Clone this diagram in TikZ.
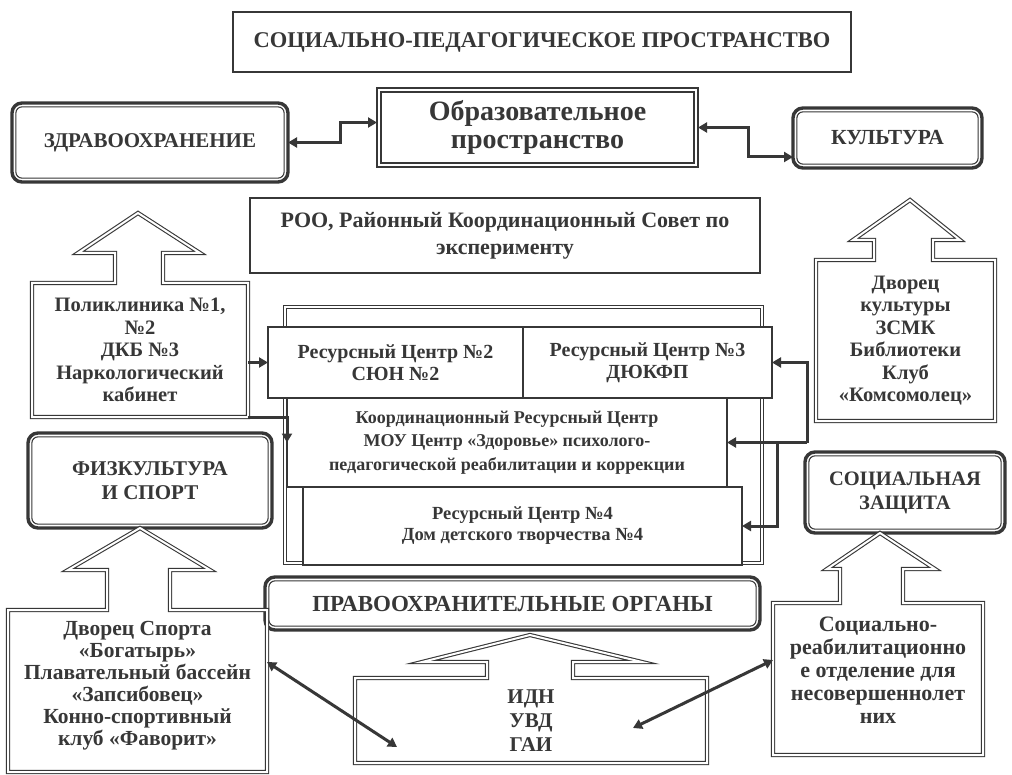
\documentclass[tikz,border=0pt]{standalone}
\usepackage{fontspec}
\setmainfont{Liberation Serif}
\usetikzlibrary{arrows.meta}
\definecolor{ink}{RGB}{55,55,55}
\tikzset{
  txt/.style={text=ink, align=center, inner sep=0pt, outer sep=0pt},
  thickbox/.style={txt, draw=ink, line width=2.8pt, fill=white},
  rbox/.style={txt, draw=ink, line width=3.4pt, rounded corners=10pt},
  dbl/.style={draw=ink, double=white, line width=1.1pt, double distance=2pt},
  conn/.style={draw=ink, line width=3pt, >={Triangle[length=9pt,width=10pt]}},
}
\newcommand{\fs}[2]{\bfseries\fontsize{#1}{#2}\selectfont}
\begin{document}
\begin{tikzpicture}[x=1pt,y=-1pt]
  \useasboundingbox[fill=white] (0,0) rectangle (1012,775);
  % top row
  \node[thickbox, minimum width=618, minimum height=60, font=\fs{22.5}{25}] (title) at (542,42)
    {СОЦИАЛЬНО-ПЕДАГОГИЧЕСКОЕ ПРОСТРАНСТВО};
  \node[rbox, minimum width=276, minimum height=79, font=\fs{21}{23}] (zdrav) at (150,142.5)
    {ЗДРАВООХРАНЕНИЕ};
  \node[txt, draw=ink, line width=1.1pt, minimum width=321, minimum height=79, font=\fs{28}{28}] (obraz) at (537.5,127.5)
    {Образовательное\\пространство};
  \draw[ink, line width=2.6pt] ([shift={(4pt,-4pt)}]obraz.north west) rectangle ([shift={(-4pt,4pt)}]obraz.south east);
  \node[rbox, minimum width=189, minimum height=60, font=\fs{21.5}{23}] (kult) at (887.5,138)
    {КУЛЬТУРА};
  \node[thickbox, minimum width=510, minimum height=75, font=\fs{22}{27}] (roo) at (505,235.5)
    {РОО, Районный Координационный Совет по\\эксперименту};

  % resource centres
  \draw[dbl] (285,307) rectangle (762,563);
  \node[thickbox, minimum width=440, minimum height=89, font=\fs{18}{23.5}] (coord) at (507,442.5)
    {Координационный Ресурсный Центр\\МОУ Центр «Здоровье» психолого-\\педагогической реабилитации и коррекции};
  \node[thickbox, minimum width=439, minimum height=78, font=\fs{18.5}{21}] (rc4) at (522.5,526)
    {Ресурсный Центр №4\\Дом детского творчества №4};
  \node[thickbox, minimum width=255, minimum height=71, font=\fs{20}{22}] (rc2) at (395.5,362.5)
    {Ресурсный Центр №2\\СЮН №2};
  \node[thickbox, minimum width=249, minimum height=71, font=\fs{20}{22}] (rc3) at (647.5,362.5)
    {Ресурсный Центр №3\\ДЮКФП};

  % spheres
  \node[rbox, minimum width=244, minimum height=95, font=\fs{21}{24}] (fiz) at (150,480.5)
    {ФИЗКУЛЬТУРА\\И СПОРТ};
  \node[rbox, minimum width=200, minimum height=81, font=\fs{20.5}{24}] (socz) at (905,492.5)
    {СОЦИАЛЬНАЯ\\ЗАЩИТА};
  \node[rbox, minimum width=495, minimum height=53, font=\fs{23}{25}] (pravo) at (512.5,603.5)
    {ПРАВООХРАНИТЕЛЬНЫЕ ОРГАНЫ};
  \foreach \n in {zdrav,kult,fiz,socz,pravo}
    \draw[ink, line width=1.1pt, rounded corners=6pt] ([shift={(3.9pt,-3.9pt)}]\n.north west) rectangle ([shift={(-3.9pt,3.9pt)}]\n.south east);

  % institutions with block arrows
  \node[txt, minimum width=216, minimum height=134, font=\fs{20.5}{22.5}] (poly) at (140,350)
    {Поликлиника №1,\\№2\\ДКБ №3\\Наркологический\\кабинет};
  \draw[dbl] (poly.north west) -- (115,283) -- (115,253) -- (78,253) -- (138,213) -- (200,253)
    -- (163,253) -- (163,283) -- (poly.north east) -- (poly.south east) -- (poly.south west) -- cycle;
  \node[txt, minimum width=179, minimum height=161, font=\fs{20.5}{22.5}] (kultd) at (905.5,340.5)
    {Дворец\\культуры\\ЗСМК\\Библиотеки\\Клуб\\«Комсомолец»};
  \draw[dbl] (kultd.north west) -- (874,260) -- (874,240) -- (853,240) -- (910,200) -- (960,240)
    -- (933,240) -- (933,260) -- (kultd.north east) -- (kultd.south east) -- (kultd.south west) -- cycle;
  \node[txt, minimum width=259, minimum height=162, font=\fs{21.5}{22}] (sport) at (137.5,691)
    {Дворец Спорта\\«Богатырь»\\Плавательный бассейн\\«Запсибовец»\\Конно-спортивный\\клуб «Фаворит»\\[-6pt]};
  \draw[dbl] (sport.north west) -- (107,610) -- (107,570) -- (68,570) -- (140,528) -- (210,570)
    -- (170,570) -- (170,610) -- (sport.north east) -- (sport.south east) -- (sport.south west) -- cycle;
  \node[txt, minimum width=210, minimum height=152, font=\fs{22}{23}] (socr) at (878,679)
    {Социально-\\реабилитационно\\е отделение для\\несовершеннолет\\них\\[-6pt]};
  \draw[dbl] (socr.north west) -- (840,603) -- (840,569) -- (827,569) -- (880,533) -- (935,569)
    -- (903,569) -- (903,603) -- (socr.north east) -- (socr.south east) -- (socr.south west) -- cycle;
  \node[txt, minimum width=352, minimum height=85, font=\fs{21}{24}] (idn) at (531,720.5)
    {ИДН\\УВД\\ГАИ};
  \draw[dbl] (idn.north west) -- (487,678) -- (487,662) -- (422,662) -- (530,635) -- (642,662)
    -- (573,662) -- (573,678) -- (idn.north east) -- (idn.south east) -- (idn.south west) -- cycle;

  % connectors
  \draw[conn,<->] (zdrav.east) -- ++(52,0) |- ([yshift=5pt]obraz.west);
  \draw[conn,<->] (obraz.east) -- ++(50,0) |- ([yshift=-19pt]kult.west);
  \draw[conn,->] (poly.east |- rc2.west) -- (rc2.west);
  \draw[conn,->] (poly.south east) -| (coord.west);
  \coordinate (br) at (807,442.5);
  \draw[conn,->] (br) |- (rc3.east);
  \draw[conn,->] (br) -- (coord.east);
  \draw[conn,->] (777,442.5) |- (rc4.east);
  \coordinate (idnl) at (397,747);
  \coordinate (idnr) at (633,728);
  \draw[conn,<->] ([yshift=29pt]sport.east) -- (idnl);
  \draw[conn,<->] ([yshift=19pt]socr.west) -- (idnr);
\end{tikzpicture}
\end{document}
